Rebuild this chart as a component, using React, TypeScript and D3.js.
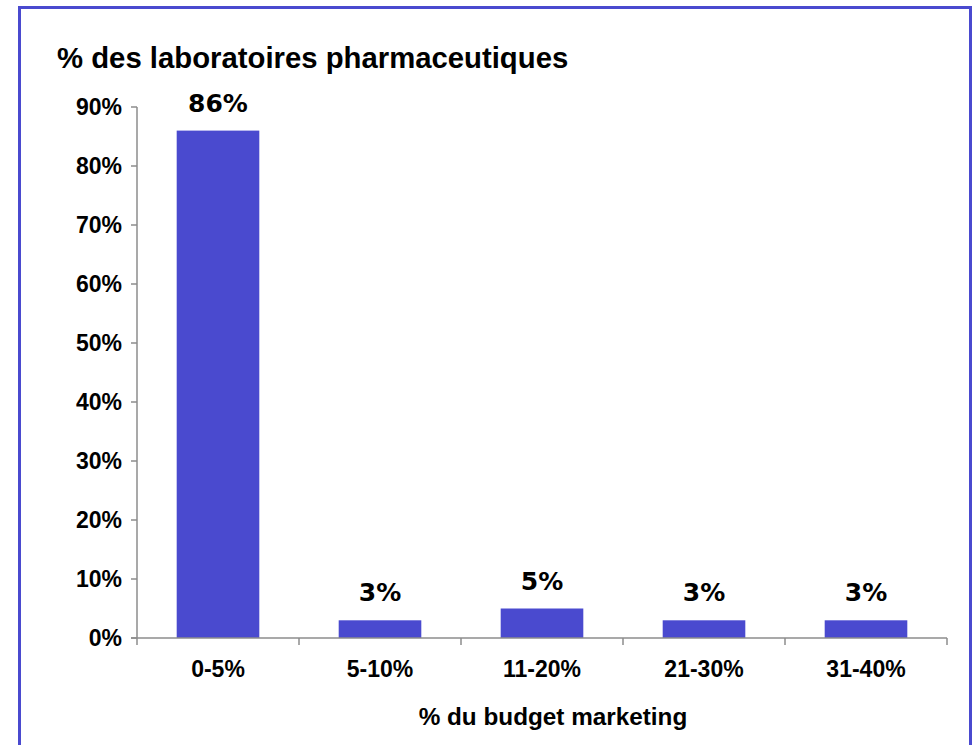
import React from "react";
import * as d3 from "d3";

const categories = ["0-5%", "5-10%", "11-20%", "21-30%", "31-40%"];
const values = [86, 3, 5, 3, 3];
const yTicks = [0, 10, 20, 30, 40, 50, 60, 70, 80, 90];
const chartTitle = "% des laboratoires pharmaceutiques";
const xTitle = "% du budget marketing";

const W = 973;
const H = 745;
const left = 137;
const right = 947;
const top = 107;
const bottom = 638;

export default function App() {
  const x = d3.scaleBand<string>().domain(categories).range([left, right]).paddingInner(0.49).paddingOuter(0.245);
  const xb = d3.scaleBand<string>().domain(categories).range([left, right]);
  const y = d3.scaleLinear().domain([0, 90]).range([bottom, top]);
  const barColor = "#4a4acf";
  const axisColor = "#8c8c8c";
  const font = "Arial, 'Liberation Sans', sans-serif";
  const labelFont = "Verdana, 'DejaVu Sans', sans-serif";
  const bounds = categories.map((c) => xb(c) as number).concat([right]);
  return (
    <svg width={W} height={H} style={{ position: "absolute", left: 0, top: 0 }}>
      <rect x={0} y={0} width={W} height={H} fill="#ffffff" />
      <rect x={19.5} y={7.5} width={951} height={760} fill="none" stroke={barColor} strokeWidth={3} />
      <text x={57} y={68} fontFamily={font} fontWeight="bold" fontSize={29.3} fill="#000">{chartTitle}</text>
      {categories.map((c, i) => (
        <rect key={c} x={x(c)} y={y(values[i])} width={x.bandwidth()} height={bottom - y(values[i])} fill={barColor} />
      ))}
      <line x1={left} x2={left} y1={top} y2={bottom} stroke={axisColor} strokeWidth={1.5} />
      <line x1={left - 6} x2={right} y1={bottom} y2={bottom} stroke={axisColor} strokeWidth={1.5} />
      {yTicks.map((t) => (
        <g key={t}>
          <line x1={left - 6} x2={left} y1={y(t)} y2={y(t)} stroke={axisColor} strokeWidth={1.5} />
          <text x={122} y={y(t)} dy="0.35em" textAnchor="end" fontFamily={font} fontWeight="bold" fontSize={23} fill="#000">{t}%</text>
        </g>
      ))}
      {bounds.map((b, i) => (
        <line key={i} x1={b} x2={b} y1={bottom} y2={bottom + 7} stroke={axisColor} strokeWidth={1.5} />
      ))}
      {categories.map((c) => (
        <text key={c} x={(xb(c) as number) + xb.bandwidth() / 2} y={677} textAnchor="middle" fontFamily={font} fontWeight="bold" fontSize={23} fill="#000">{c}</text>
      ))}
      {categories.map((c, i) => (
        <text key={c} x={(x(c) as number) + x.bandwidth() / 2} y={y(values[i]) - 19} textAnchor="middle" fontFamily={labelFont} fontWeight="bold" fontSize={25} fill="#000">{values[i]}%</text>
      ))}
      <text x={553} y={725} textAnchor="middle" fontFamily={font} fontWeight="bold" fontSize={24.3} fill="#000">{xTitle}</text>
    </svg>
  );
}
